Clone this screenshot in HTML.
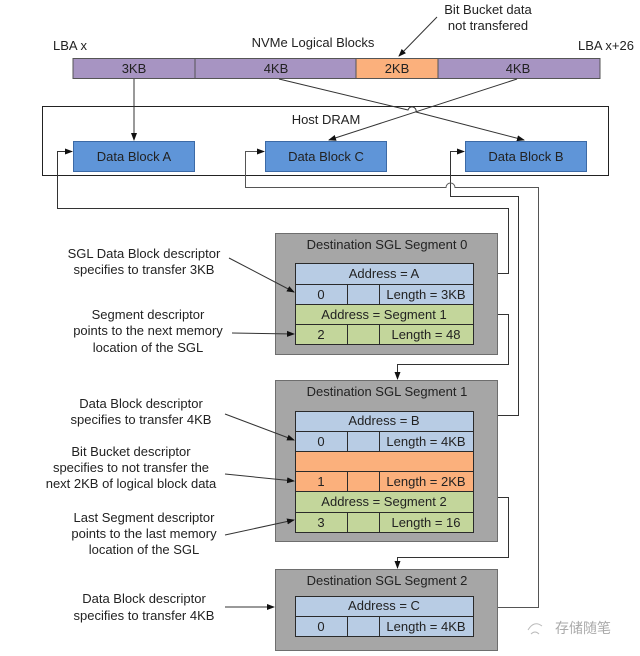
<!DOCTYPE html>
<html><head><meta charset="utf-8"><style>
html,body{margin:0;padding:0;background:#fff;}
svg{display:block;}
text{font-family:"Liberation Sans",Arial,sans-serif;font-size:13px;fill:#222;}
</style></head><body>
<svg width="640" height="656" viewBox="0 0 640 656" xmlns="http://www.w3.org/2000/svg">
<defs>
<marker id="ar" markerWidth="8" markerHeight="8" refX="7" refY="4" orient="auto" markerUnits="userSpaceOnUse">
<path d="M0,1 L8,4 L0,7 Z" fill="#111"/></marker>
</defs>
<g text-anchor="middle">
<text x="488" y="14">Bit Bucket data</text>
<text x="488" y="30">not transfered</text>
<text x="313" y="47">NVMe Logical Blocks</text>
<text x="326" y="124">Host DRAM</text>
</g>
<text x="53" y="50">LBA x</text>
<text x="634" y="50" text-anchor="end">LBA x+26</text>
<line x1="437" y1="17" x2="399" y2="56" stroke="#333" marker-end="url(#ar)"/>
<!-- bar -->
<rect x="73" y="58.5" width="527" height="20" fill="#a794c2" stroke="#555"/>
<rect x="356" y="58.5" width="82" height="20" fill="#fbb07c" stroke="#555"/>
<line x1="195" y1="58.5" x2="195" y2="78.5" stroke="#555"/>
<g text-anchor="middle">
<text x="134" y="73">3KB</text><text x="276" y="73">4KB</text><text x="397" y="73">2KB</text><text x="518" y="73">4KB</text>
</g>
<!-- host dram -->
<rect x="42.5" y="106.5" width="566" height="69" fill="none" stroke="#222"/>
<g fill="#5f95d8" stroke="#3c6aa6">
<rect x="73.5" y="141.5" width="121" height="30"/>
<rect x="265.5" y="141.5" width="121" height="30"/>
<rect x="465.5" y="141.5" width="121" height="30"/>
</g>
<g text-anchor="middle">
<text x="134" y="161">Data Block A</text><text x="326" y="161">Data Block C</text><text x="526" y="161">Data Block B</text>
</g>
<g fill="none" stroke="#333" stroke-width="1">
<line x1="134" y1="79" x2="134" y2="140" marker-end="url(#ar)"/>
<path d="M279,79 L408,110 A4,4 0 0 1 416,112 L524,140" marker-end="url(#ar)"/>
<line x1="517" y1="79" x2="329" y2="140" marker-end="url(#ar)"/>
<path d="M473.5,273.5 H508.5 V208.5 H57.5 V151.5 H72" marker-end="url(#ar)"/>
<path d="M473.5,415.5 H518.5 V196.5 H450.5 V151.5 H464" marker-end="url(#ar)"/>
<path d="M473.5,607.5 H538.5 V187.5 H455 A4.5,4.5 0 0 0 446,187.5 H245.5 V151.5 H264" marker-end="url(#ar)" stroke="#555"/>
<path d="M473.5,314.5 H508.5 V364.5 H397.5 V379" marker-end="url(#ar)"/>
<path d="M473.5,497.5 H508.5 V557.5 H397.5 V568" marker-end="url(#ar)"/>
</g>
<!-- segments -->
<g fill="#a6a6a6" stroke="#6e6e6e">
<rect x="275.5" y="233.5" width="222" height="121"/>
<rect x="275.5" y="380.5" width="222" height="161"/>
<rect x="275.5" y="569.5" width="222" height="81"/>
</g>
<g text-anchor="middle">
<text x="387" y="249">Destination SGL Segment 0</text>
<text x="387" y="396">Destination SGL Segment 1</text>
<text x="387" y="585">Destination SGL Segment 2</text>
</g>
<g stroke="#2a2a2a">
<rect x="295.5" y="263.5" width="178" height="41" fill="#b8cce4"/>
<rect x="295.5" y="304.5" width="178" height="40" fill="#c3d69b"/>
<rect x="295.5" y="411.5" width="178" height="40" fill="#b8cce4"/>
<rect x="295.5" y="451.5" width="178" height="40" fill="#fbb07c"/>
<rect x="295.5" y="491.5" width="178" height="41" fill="#c3d69b"/>
<rect x="295.5" y="596.5" width="178" height="40" fill="#b8cce4"/>
<path d="M295.5,284.5H473.5M295.5,324.5H473.5M295.5,431.5H473.5M295.5,471.5H473.5M295.5,512.5H473.5M295.5,616.5H473.5" fill="none"/>
<path d="M347.5,284.5V304.5M379.5,284.5V304.5M347.5,324.5V344.5M379.5,324.5V344.5M347.5,431.5V451.5M379.5,431.5V451.5M347.5,471.5V491.5M379.5,471.5V491.5M347.5,512.5V532.5M379.5,512.5V532.5M347.5,616.5V636.5M379.5,616.5V636.5" fill="none"/>
</g>
<g fill="none" stroke="#333" stroke-width="1">
<line x1="229" y1="258" x2="294" y2="292" marker-end="url(#ar)"/>
<line x1="232" y1="333" x2="294" y2="334" marker-end="url(#ar)"/>
<line x1="225" y1="414" x2="294" y2="440" marker-end="url(#ar)"/>
<line x1="225" y1="474" x2="294" y2="481" marker-end="url(#ar)"/>
<line x1="225" y1="535" x2="294" y2="520" marker-end="url(#ar)"/>
<line x1="225" y1="607" x2="274" y2="607" marker-end="url(#ar)"/>
</g>
<g text-anchor="middle">
<text x="384" y="278">Address = A</text><text x="321" y="299">0</text><text x="426" y="299">Length = 3KB</text>
<text x="384" y="319">Address = Segment 1</text><text x="321" y="339">2</text><text x="426" y="339">Length = 48</text>
<text x="384" y="425">Address = B</text><text x="321" y="446">0</text><text x="426" y="446">Length = 4KB</text>
<text x="321" y="486">1</text><text x="426" y="486">Length = 2KB</text>
<text x="384" y="506">Address = Segment 2</text><text x="321" y="527">3</text><text x="426" y="527">Length = 16</text>
<text x="384" y="610">Address = C</text><text x="321" y="631">0</text><text x="426" y="631">Length = 4KB</text>
<text x="144" y="258">SGL Data Block descriptor</text>
<text x="144" y="274">specifies to transfer 3KB</text>
<text x="148" y="319">Segment descriptor</text>
<text x="148" y="335">points to the next memory</text>
<text x="148" y="352">location of the SGL</text>
<text x="141" y="408">Data Block descriptor</text>
<text x="141" y="424">specifies to transfer 4KB</text>
<text x="131" y="456">Bit Bucket descriptor</text>
<text x="131" y="472">specifies to not transfer the</text>
<text x="131" y="488">next 2KB of logical block data</text>
<text x="144" y="522">Last Segment descriptor</text>
<text x="144" y="538">points to the last memory</text>
<text x="144" y="554">location of the SGL</text>
<text x="144" y="603">Data Block descriptor</text>
<text x="144" y="620">specifies to transfer 4KB</text>
</g>
<text x="555" y="633" style="font-family:'Liberation Sans','Noto Sans CJK SC',sans-serif;font-size:14px;fill:#aaa">存储随笔</text>
<path d="M528,630 q6,-10 14,-4 M531,634 q4,-4 8,0" stroke="#bbb" fill="none"/>
</svg>
</body></html>
